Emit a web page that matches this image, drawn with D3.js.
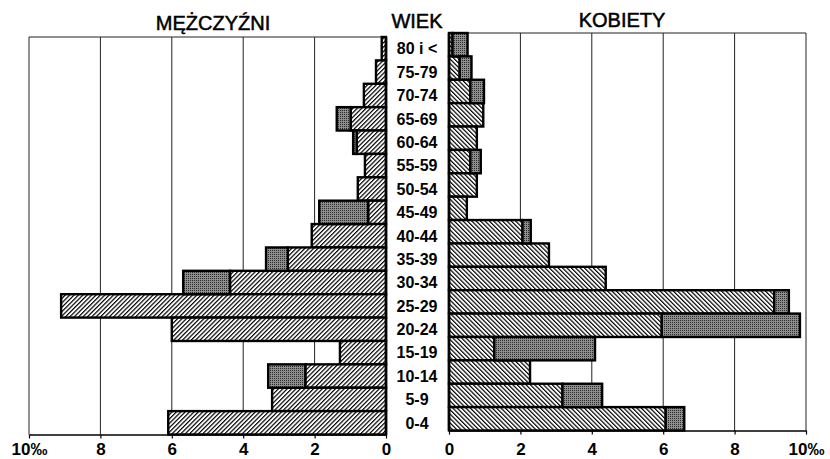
<!DOCTYPE html>
<html><head><meta charset="utf-8">
<script src="https://cdn.jsdelivr.net/npm/d3@7"></script>
<style>body{margin:0;background:#fff}svg{display:block}text{font-family:Arial,"Liberation Sans",sans-serif;fill:#000}</style>
</head><body><svg id="c" width="830" height="459"></svg>
<script>
const ages=["80 i <","75-79","70-74","65-69","60-64","55-59","50-54","45-49","40-44","35-39","30-34","25-29","20-24","15-19","10-14","5-9","0-4"];
const menHatched=[0.12,0.28,0.62,0.99,0.82,0.59,0.79,0.5,2.08,2.75,4.37,9.1,6.0,1.29,2.26,3.19,6.1];
const menDark=[0,0,0,0.39,0.1,0,0,1.37,0,0.61,1.31,0,0,0,1.04,0,0];
const womenHatched=[0.1,0.3,0.6,0.96,0.78,0.6,0.78,0.5,2.06,2.8,4.39,9.11,5.96,1.27,2.27,3.18,6.07];
const womenDark=[0.42,0.33,0.38,0,0,0.29,0,0,0.23,0,0,0.41,3.87,2.82,0,1.11,0.52];
const tickValues=[0,2,4,6,8,10];
const tickLabels=["0","2","4","6","8","10‰"];
const titleMen="MĘŻCZYŹNI", titleAge="WIEK", titleWomen="KOBIETY";

const svg=d3.select("#c");
svg.append("rect").attr("width",830).attr("height",459).attr("fill","#fff");
const defs=svg.append("defs");
function hatch(id,angle){
  const p=defs.append("pattern").attr("id",id).attr("patternUnits","userSpaceOnUse")
    .attr("width",3.1).attr("height",10).attr("patternTransform","rotate("+angle+")");
  p.append("rect").attr("width",3.1).attr("height",10).attr("fill","#fff");
  p.append("line").attr("x1",0.6).attr("x2",0.6).attr("y1",0).attr("y2",10).attr("stroke","#000").attr("stroke-width",1.2);
}
hatch("hatchL",45);
hatch("hatchR",-45);
const st=defs.append("pattern").attr("id","stipple").attr("patternUnits","userSpaceOnUse").attr("width",2).attr("height",2);
st.append("rect").attr("width",2).attr("height",2).attr("fill","#8e8e8e");
st.append("rect").attr("width",1).attr("height",1).attr("fill","#2a2a2a");

const xm=d3.scaleLinear().domain([0,10]).range([386,29]);
const xw=d3.scaleLinear().domain([0,10]).range([449,806]);
const yL=d3.scaleBand().domain(ages).range([37,434.5]).padding(0);
const yR=d3.scaleBand().domain(ages).range([33,430.5]).padding(0);

function panel(x,y,hatchedVals,darkVals,hatchId,pad){
  const g=svg.append("g");
  const [top,bottom]=y.range();
  g.selectAll("line.grid").data(tickValues.filter(v=>v>0)).join("line")
    .attr("x1",d=>x(d)).attr("x2",d=>x(d)).attr("y1",top).attr("y2",bottom)
    .attr("stroke","#222").attr("stroke-width",1);
  g.append("line").attr("x1",x(0)).attr("x2",x(10)).attr("y1",top).attr("y2",top)
    .attr("stroke","#222").attr("stroke-width",1.2);
  const rows=ages.map((a,i)=>({a,h:hatchedVals[i],d:darkVals[i]}));
  g.selectAll("rect.h").data(rows.filter(r=>r.h>0)).join("rect")
    .attr("x",r=>Math.min(x(0),x(r.h))).attr("width",r=>Math.abs(x(r.h)-x(0)))
    .attr("y",r=>y(r.a)).attr("height",y.bandwidth())
    .attr("fill","url(#"+hatchId+")").attr("stroke","#000").attr("stroke-width",2.4);
  g.selectAll("rect.d").data(rows.filter(r=>r.d>0)).join("rect")
    .attr("x",r=>Math.min(x(r.h),x(r.h+r.d))).attr("width",r=>Math.abs(x(r.h+r.d)-x(r.h)))
    .attr("y",r=>y(r.a)).attr("height",y.bandwidth())
    .attr("fill","url(#stipple)").attr("stroke","#000").attr("stroke-width",2.4);
  g.append("line").attr("x1",x(0)).attr("x2",x(0)).attr("y1",top).attr("y2",bottom)
    .attr("stroke","#000").attr("stroke-width",2.5);
  const ax=d3.axisBottom(x).tickValues(tickValues).tickFormat((d,i)=>tickLabels[i])
    .tickSize(4).tickSizeOuter(0).tickPadding(pad);
  const a=g.append("g").attr("transform","translate(0,"+bottom+")").call(ax);
  a.select(".domain").attr("stroke","#000").attr("stroke-width",1.3);
  a.selectAll(".tick line").attr("stroke","#000").attr("stroke-width",1.2);
  a.selectAll(".tick text").attr("font-size",17).attr("font-weight","bold")
    .attr("font-family","Arial,'Liberation Sans',sans-serif").attr("fill","#000");
}
panel(xm,yL,menHatched,menDark,"hatchL",4.3);
panel(xw,yR,womenHatched,womenDark,"hatchR",8);

svg.selectAll("text.age").data(ages).join("text").attr("class","age")
  .attr("x",417).attr("y",d=>yL(d)+yL.bandwidth()/2).attr("dy","0.36em")
  .attr("text-anchor","middle").attr("font-size",16).attr("font-weight","bold").text(d=>d);

const titles=[{t:titleMen,x:213,y:30},{t:titleAge,x:417,y:28},{t:titleWomen,x:622,y:27}];
svg.selectAll("text.title").data(titles).join("text").attr("class","title")
  .attr("x",d=>d.x).attr("y",d=>d.y).attr("text-anchor","middle").attr("font-size",20)
  .attr("stroke","#000").attr("stroke-width",0.5).text(d=>d.t);
</script></body></html>
